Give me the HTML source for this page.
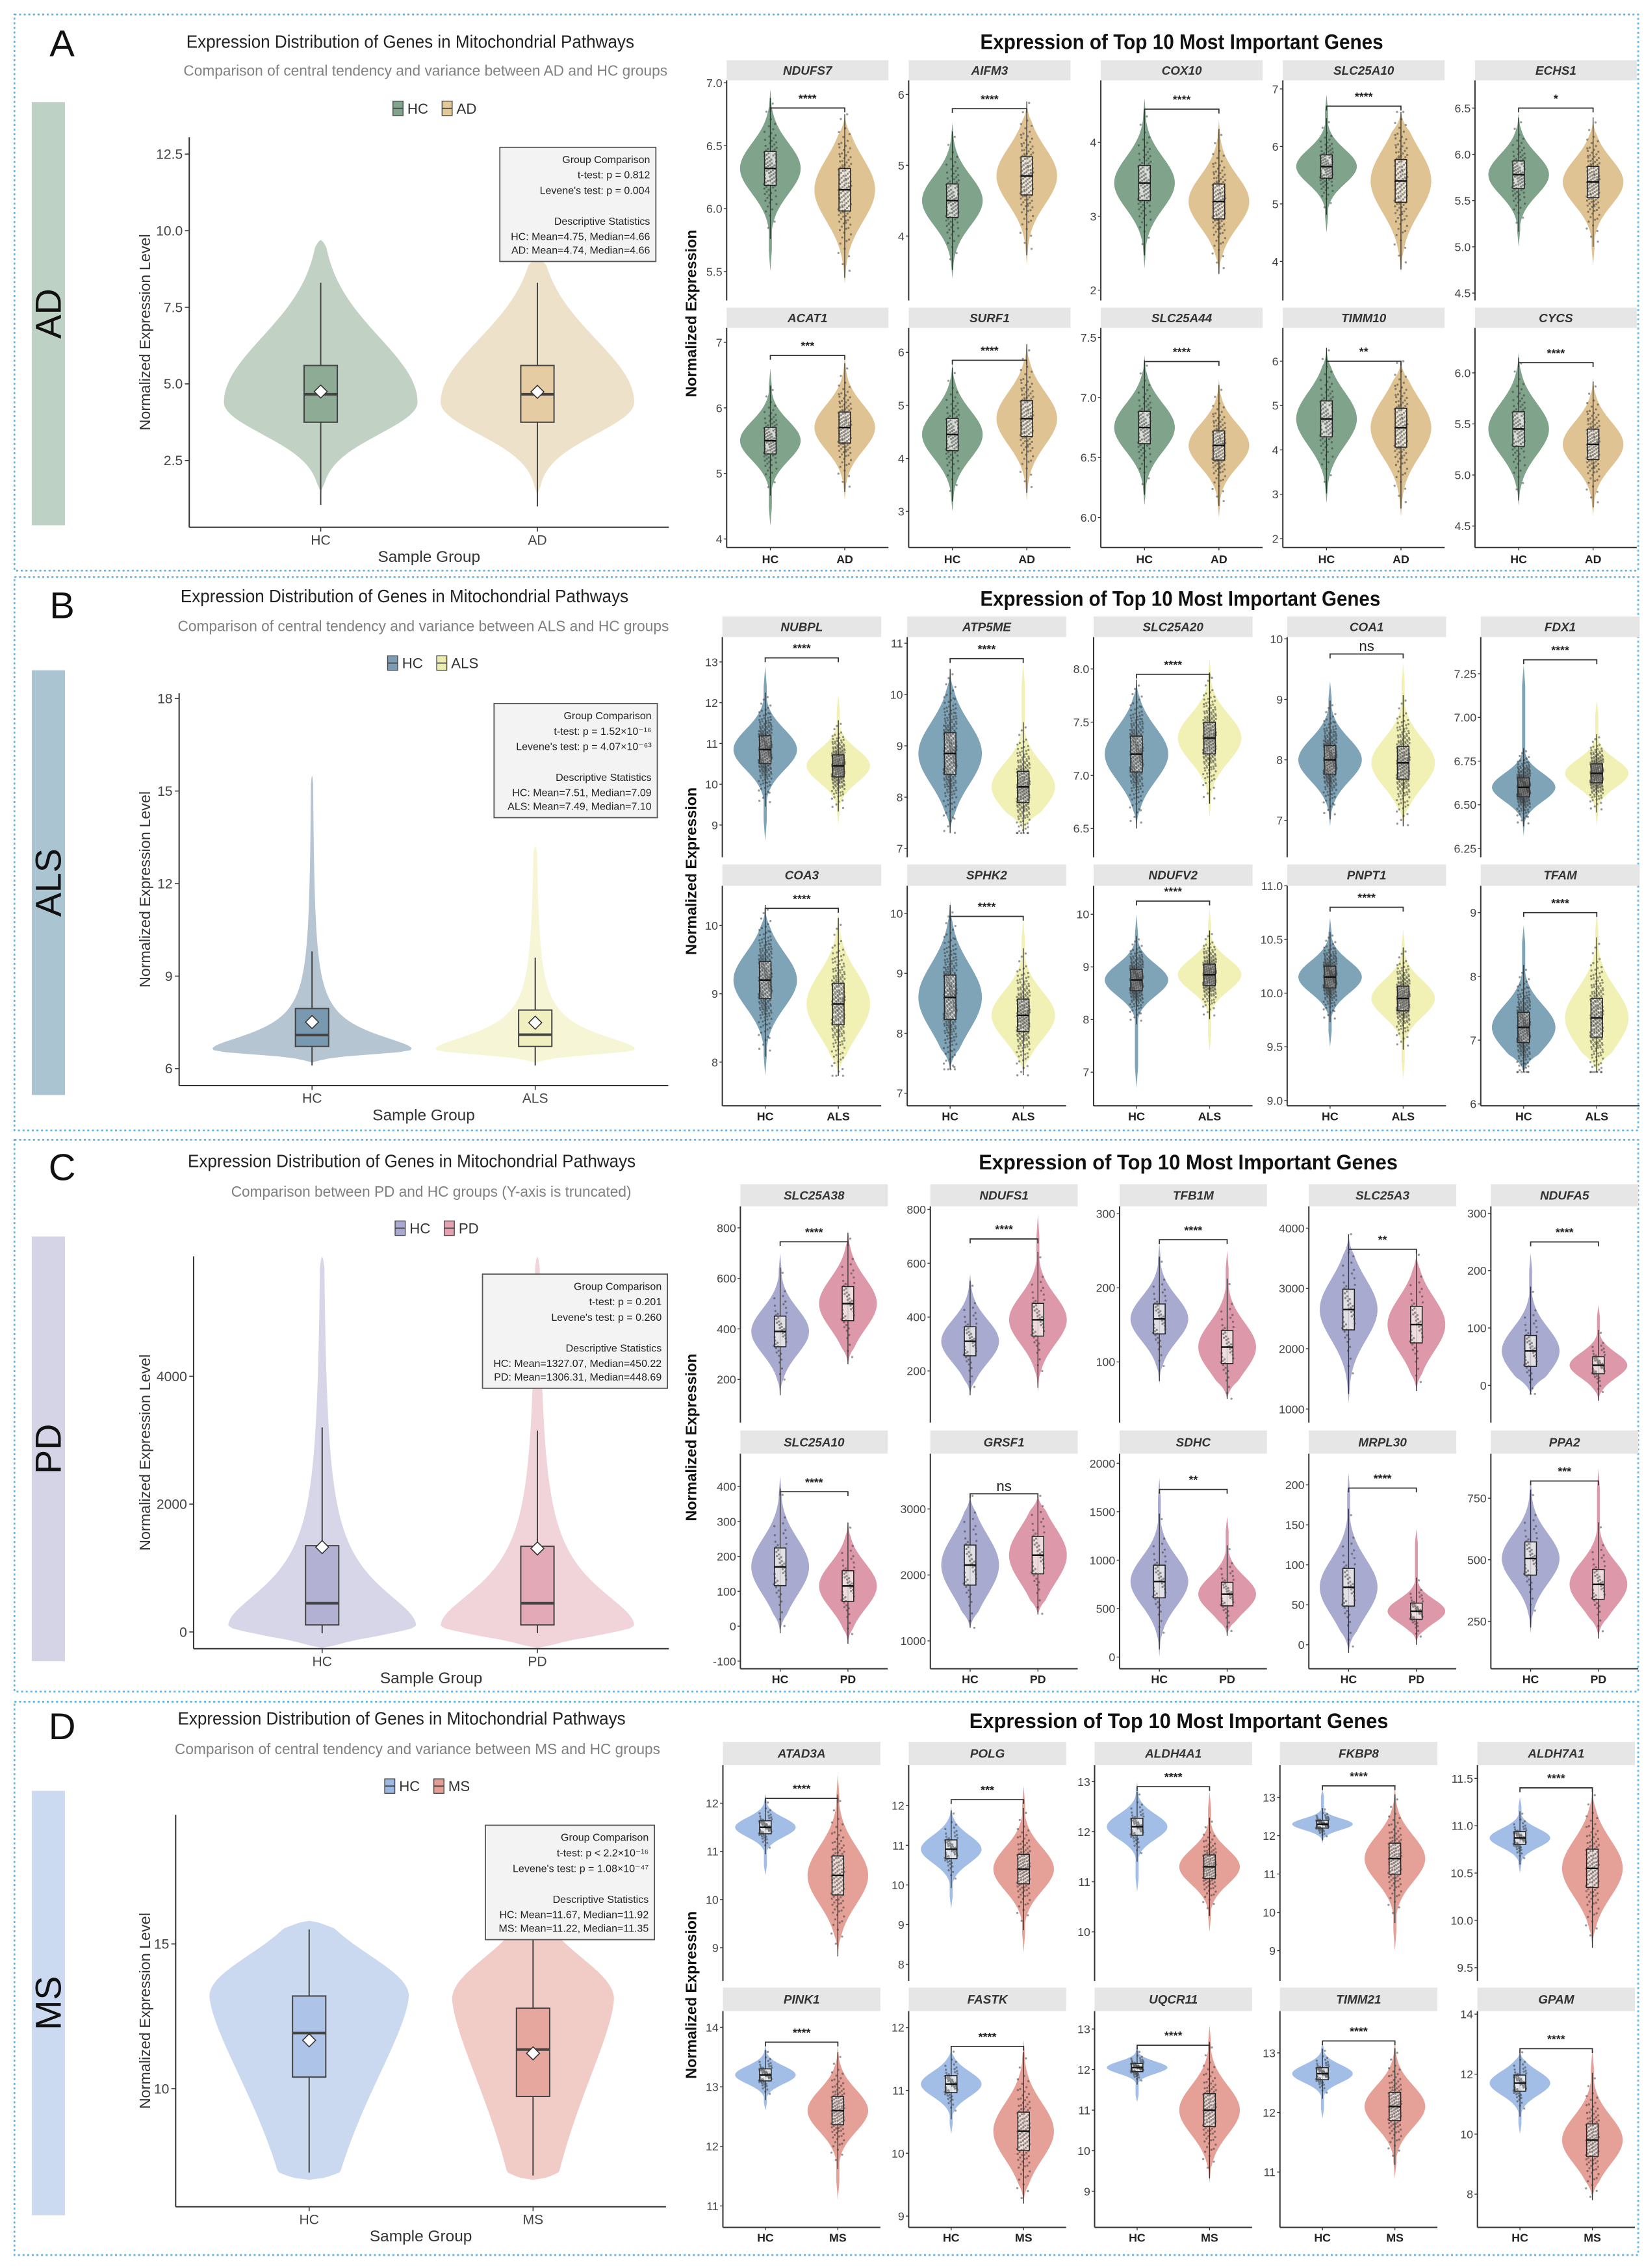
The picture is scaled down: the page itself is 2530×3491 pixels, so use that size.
<!DOCTYPE html>
<html><head><meta charset="utf-8"><title>Mitochondrial gene expression</title>
<style>
html,body{margin:0;padding:0;background:#fff;}
svg{display:block;font-family:"Liberation Sans",Arial,sans-serif;}
</style></head>
<body>
<svg id="chart" xmlns="http://www.w3.org/2000/svg" viewBox="0 0 1138 1570" width="2530" height="3491" preserveAspectRatio="none"></svg>
<script>
// ===================== DATA =====================
// Panel A (AD)
const genesA = ["NDUFS7","AIFM3","COX10","SLC25A10","ECHS1","ACAT1","SURF1","SLC25A44","TIMM10","CYCS"];
const hcA  = [[6.32,0.2,5.5,6.95],[4.5,0.35,3.4,5.6],[3.45,0.35,2.3,4.6],[5.65,0.3,4.5,6.9],[5.78,0.22,5.0,6.45],[5.5,0.3,4.2,6.6],[4.45,0.45,3.0,5.8],[6.75,0.2,6.1,7.35],[4.7,0.6,2.8,6.3],[5.45,0.25,4.7,6.2]];
const disA = [[6.15,0.25,5.4,6.75],[4.85,0.4,3.6,5.9],[3.2,0.35,2.2,4.3],[5.4,0.55,3.8,6.6],[5.7,0.25,4.8,6.4],[5.7,0.35,4.6,6.8],[4.75,0.5,3.2,6.2],[6.6,0.18,6.0,7.15],[4.5,0.65,2.5,6.0],[5.3,0.22,4.6,5.95]];
const sigA = ["****","****","****","****","*","***","****","****","**","****"];
const bracketA = [6.8,5.8,4.45,6.7,6.5,6.8,5.85,7.3,6.0,6.1];
const domainA = [[5.27,7.02],[3.09,6.2],[1.86,4.84],[3.32,7.15],[4.42,6.8],[3.87,7.22],[2.32,6.46],[5.75,7.58],[1.8,6.75],[4.29,6.44]];
const ticksA = [["5.5","6.0","6.5","7.0"],["4","5","6"],["2","3","4"],["4","5","6","7"],["4.5","5.0","5.5","6.0","6.5"],["4","5","6","7"],["3","4","5","6"],["6.0","6.5","7.0","7.5"],["2","3","4","5","6"],["4.5","5.0","5.5","6.0"]];
// Panel B (ALS)
const genesB = ["NUBPL","ATP5ME","SLC25A20","COA1","FDX1","COA3","SPHK2","NDUFV2","PNPT1","TFAM"];
const hcB  = [[10.85,0.5,8.6,12.9],[8.85,0.6,7.3,10.5],[7.2,0.25,6.5,7.9],[8.0,0.35,6.9,9.3],[6.6,0.08,6.32,7.3],[9.2,0.4,7.8,10.3],[8.6,0.55,7.4,10.2],[8.75,0.3,6.7,10.0],[10.15,0.15,9.5,10.7],[7.2,0.35,6.5,8.8]];
const disB = [[10.45,0.4,9.0,12.2],[8.2,0.45,7.3,10.6],[7.35,0.22,6.6,8.1],[7.95,0.4,6.9,9.6],[6.68,0.08,6.38,7.1],[8.85,0.45,7.8,10.2],[8.3,0.4,7.3,9.9],[8.85,0.3,7.4,10.1],[9.95,0.17,9.2,10.6],[7.35,0.45,6.5,9.0]];
const sigB = ["****","****","****","ns","****","****","****","****","****","****"];
const bracketB = [13.1,10.7,7.95,9.75,7.33,10.25,9.95,10.25,10.8,9.0];
const domainB = [[8.21,13.61],[6.83,11.12],[6.23,8.3],[6.39,10.03],[6.2,7.46],[7.36,10.58],[6.79,10.46],[6.36,10.54],[8.95,11.0],[5.97,9.42]];
const ticksB = [["9","10","11","12","13"],["7","8","9","10","11"],["6.5","7.0","7.5","8.0"],["7","8","9","10"],["6.25","6.50","6.75","7.00","7.25"],["8","9","10"],["7","8","9","10"],["7","8","9","10"],["9.0","9.5","10.0","10.5","11.0"],["6","7","8","9"]];
// Panel C (PD)
const genesC = ["SLC25A38","NDUFS1","TFB1M","SLC25A3","NDUFA5","SLC25A10","GRSF1","SDHC","MRPL30","PPA2"];
const hcC  = [[390,90,130,700],[310,80,110,560],[158,30,70,260],[2650,500,1100,3900],[60,40,-15,230],[170,80,-20,430],[2150,450,1200,3200],[780,250,0,1850],[72,35,-10,215],[505,100,200,830]];
const disC = [[500,100,260,790],[390,90,120,780],[120,33,50,250],[2400,450,1300,3600],[35,22,-30,140],[115,65,-50,300],[2300,420,1400,3200],[650,180,220,1450],[42,15,0,145],[400,90,180,870]];
const sigC = ["****","****","****","**","****","****","ns","**","****","***"];
const bracketC = [745,690,265,3650,250,385,3230,1730,196,820];
const domainC = [[29,885],[8,811],[18,310],[775,4361],[-65,312],[-122,494],[578,3838],[-121,2099],[-30,239],[57,931]];
const ticksC = [["200","400","600","800"],["200","400","600","800"],["100","200","300"],["1000","2000","3000","4000"],["0","100","200","300"],["-100","0","100","200","300","400"],["1000","2000","3000"],["0","500","1000","1500","2000"],["0","50","100","150","200"],["250","500","750"]];
// Panel D (MS)
const genesD = ["ATAD3A","POLG","ALDH4A1","FKBP8","ALDH7A1","PINK1","FASTK","UQCR11","TIMM21","GPAM"];
const hcD  = [[11.5,0.2,10.5,12.2],[10.9,0.35,9.4,12.0],[12.1,0.25,10.8,13.0],[12.3,0.15,11.8,13.2],[10.87,0.1,10.5,11.3],[13.2,0.15,12.6,13.7],[11.1,0.2,10.3,11.7],[12.05,0.15,11.2,12.6],[12.65,0.15,11.9,13.2],[11.7,0.4,10.0,12.8]];
const disD = [[10.5,0.6,8.8,12.6],[10.4,0.55,8.3,12.5],[11.3,0.35,10.0,12.8],[11.4,0.6,9.0,13.3],[10.55,0.3,9.7,11.4],[12.6,0.35,11.1,13.7],[10.35,0.45,9.2,11.8],[11.0,0.6,9.2,13.1],[12.1,0.35,10.9,13.2],[9.8,0.8,7.8,12.8]];
const sigD = ["****","***","****","****","****","****","****","****","****","****"];
const bracketD = [12.1,12.15,12.9,13.3,11.4,13.75,11.7,12.6,13.2,12.85];
const domainD = [[8.31,12.79],[7.58,13.02],[9.02,13.33],[8.21,13.84],[9.36,11.64],[10.64,14.27],[8.82,12.26],[8.11,13.44],[10.07,13.7],[6.89,14.1]];
const ticksD = [["9","10","11","12"],["8","9","10","11","12"],["10","11","12","13"],["9","10","11","12","13"],["9.5","10.0","10.5","11.0","11.5"],["11","12","13","14"],["9","10","11","12"],["9","10","11","12","13"],["11","12","13"],["8","10","12","14"]];

// Left overview violins: [peak, lo, hi, sLo, sHi, pLo, pHi, kind('g' gauss / 'c' heavy tail)]
const leftShapeA = [[4.4,1.5,9.7,1.47,3.0,2,2,"g"],[4.4,1.4,9.1,1.47,2.9,2,2,"g"]];
const leftShapeB = [[6.65,6.2,15.5,0.22,0.66,3,1.75,"c"],[6.65,6.2,13.2,0.22,0.66,3,1.75,"c"]];
const leftShapeC = [[100,-250,5876,200,794,2,1.9,"c"],[100,-250,5876,200,794,2,1.9,"c"]];
const leftShapeD = [[13.2,6.85,15.8,5.5,2.0,1.5,2,"g"],[13.1,6.85,15.8,5.5,2.0,1.5,2,"g"]];
// boxes: [whiskerLo, q1, median, q3, whiskerHi, mean]
const leftBoxA = [[1.05,3.75,4.66,5.6,8.3,4.75],[1.0,3.75,4.66,5.6,8.3,4.74]];
const leftBoxB = [[6.1,6.72,7.09,7.95,9.8,7.51],[6.1,6.72,7.10,7.9,9.6,7.49]];
const leftBoxC = [[-20,110,450,1350,3200,1327],[-20,110,449,1340,3150,1306]];
const leftBoxD = [[7.1,10.4,11.92,13.2,15.5,11.67],[7.0,9.73,11.35,12.78,15.5,11.22]];
const leftDomainA = [0.32,13.05], leftDomainB = [5.45,18.17], leftDomainC = [-262,5876], leftDomainD = [5.92,19.46];
const leftTicksA = ["2.5","5.0","7.5","10.0","12.5"], leftTicksB = ["6","9","12","15","18"], leftTicksC = ["0","2000","4000"], leftTicksD = ["10","15"];

// ===================== LAYOUT (positions, not data) =====================
const panels = [
 {id:"a",letter:"A",dis:"AD",box:[10,10,1134,395],bar:[22,70.7,45,363.6],letterY:39,
  colors:{hc:"#7fa38b",dis:"#dfc393",lhc:"#c1d1c4",ldis:"#eee1c9",bhc:"#8eab96",bdis:"#e6cca2",bar:"#bdd1c5",key:"#7fa38b",keyd:"#e3c995"},
  L:{axL:131,axR:463,top:95,bot:365,hcX:222,dX:372,hw:[67,67],title:[129,33,310],sub:[127,52.5,335],legY:75,stat:[346,102,454,181],
     subtitle:"Comparison of central tendency and variance between AD and HC groups",
     stats:["Group Comparison","t-test: p = 0.812","Levene's test: p = 0.004","","Descriptive Statistics","HC: Mean=4.75, Median=4.66","AD: Mean=4.74, Median=4.66"]},
  shape:leftShapeA,lbox:leftBoxA,ldom:leftDomainA,lticks:leftTicksA,
  R:{cols:[503,629,762,888,1021],w:112,rows:[[41.7,55.6,208],[213,227,379]],xlab:390,title:[818,34,279],ylabY:217,hw:21,n:[90,120]},
  genes:genesA,hc:hcA,dd:disA,sig:sigA,br:bracketA,dom:domainA,ticks:ticksA},
 {id:"b",letter:"B",dis:"ALS",box:[10,399.5,1134,782.5],bar:[22,464,45,758],letterY:428,
  colors:{hc:"#7fa4b8",dis:"#f1f1b6",lhc:"#b5c5d2",ldis:"#f6f6d7",bhc:"#7899b0",bdis:"#efefc0",bar:"#abc4d1",key:"#7b9cb4",keyd:"#ecec b0".replace(" ","")},
  L:{axL:124,axR:462.6,top:479.9,bot:751.5,hcX:216,dX:370.5,hw:[69,69],title:[125,417,310],sub:[123,437,340],legY:459,stat:[342,487,455,566],
     subtitle:"Comparison of central tendency and variance between ALS and HC groups",
     stats:["Group Comparison","t-test: p = 1.52×10⁻¹⁶","Levene's test: p = 4.07×10⁻⁶³","","Descriptive Statistics","HC: Mean=7.51, Median=7.09","ALS: Mean=7.49, Median=7.10"]},
  shape:leftShapeB,lbox:leftBoxB,ldom:leftDomainB,lticks:leftTicksB,
  R:{cols:[500,628,757,891,1025],w:110,rows:[[426.8,441,593.4],[598.4,613.2,765.5]],xlab:775.5,title:[817,419.4,277],ylabY:603,hw:22,n:[260,220]},
  genes:genesB,hc:hcB,dd:disB,sig:sigB,br:bracketB,dom:domainB,ticks:ticksB},
 {id:"c",letter:"C",dis:"PD",box:[10,789,1134,1171],bar:[22,856,45,1150],letterY:817,
  colors:{hc:"#a9aad0",dis:"#dd98aa",lhc:"#d7d6e8",ldis:"#f1d3da",bhc:"#b2b1d3",bdis:"#e4a9b6",bar:"#d4d4e6",key:"#aaa9cf",keyd:"#e3a1b1"},
  L:{axL:134,axR:463,top:869.7,bot:1141.3,hcX:223,dX:372,hw:[65,67],title:[130,808,310],sub:[160,828.5,277],legY:850.2,stat:[334,882,462,961],
     subtitle:"Comparison between PD and HC groups (Y-axis is truncated)",
     stats:["Group Comparison","t-test: p = 0.201","Levene's test: p = 0.260","","Descriptive Statistics","HC: Mean=1327.07, Median=450.22","PD: Mean=1306.31, Median=448.69"]},
  shape:leftShapeC,lbox:leftBoxC,ldom:leftDomainC,lticks:leftTicksC,
  R:{cols:[512.5,644,775,906,1032],w:102,rows:[[819.8,835.1,984.8],[990.2,1006.3,1155.2]],xlab:1165.3,title:[822.5,809.5,290],ylabY:995,hw:20,n:[45,45]},
  genes:genesC,hc:hcC,dd:disC,sig:sigC,br:bracketC,dom:domainC,ticks:ticksC},
 {id:"d",letter:"D",dis:"MS",box:[10,1178,1134,1561],bar:[22,1239.7,45,1533.5],letterY:1204,
  colors:{hc:"#a3bee6",dis:"#e5a097",lhc:"#cbd9f0",ldis:"#f1cbc5",bhc:"#adc4e8",bdis:"#e6a79e",bar:"#cbdaf0",key:"#9db8e2",keyd:"#e39d93"},
  L:{axL:121.6,axR:461,top:1256.3,bot:1527.6,hcX:214,dX:369,hw:[69,56],title:[123,1193.8,310],sub:[121,1214.2,336],legY:1236.4,stat:[336,1263.5,453,1342.7],
     subtitle:"Comparison of central tendency and variance between MS and HC groups",
     stats:["Group Comparison","t-test: p < 2.2×10⁻¹⁶","Levene's test: p = 1.08×10⁻⁴⁷","","Descriptive Statistics","HC: Mean=11.67, Median=11.92","MS: Mean=11.22, Median=11.35"]},
  shape:leftShapeD,lbox:leftBoxD,ldom:leftDomainD,lticks:leftTicksD,
  R:{cols:[500.4,629,757.7,886,1022.7],w:109,rows:[[1205.8,1221.9,1371.3],[1375.9,1392.2,1541.9]],xlab:1551.8,title:[816,1196.3,290],ylabY:1381,hw:21,n:[55,110]},
  genes:genesD,hc:hcD,dd:disD,sig:sigD,br:bracketD,dom:domainD,ticks:ticksD}
];

// ===================== HELPERS =====================
const NS = "http://www.w3.org/2000/svg";
const svg = document.getElementById("chart");
function mk(tag, attrs, parent){
  const e = document.createElementNS(NS, tag);
  for (const k in attrs) e.setAttribute(k, attrs[k]);
  (parent || svg).appendChild(e);
  return e;
}
function txt(parent, x, y, s, attrs){
  const e = mk("text", Object.assign({x:x, y:y}, attrs || {}), parent);
  e.textContent = s;
  return e;
}
function linY(dom, y0, y1){ return v => y0 + (v - dom[0]) / (dom[1] - dom[0]) * (y1 - y0); }
function normInv(p){
  const q = p < 0.5 ? p : 1 - p;
  const t = Math.sqrt(-2 * Math.log(q));
  const z = t - (2.515517 + 0.802853*t + 0.010328*t*t) / (1 + 1.432788*t + 0.189269*t*t + 0.001308*t*t*t);
  return p < 0.5 ? -z : z;
}
function frac(x){ return x - Math.floor(x); }

// ===================== LEFT OVERVIEW =====================
function leftViolinPath(sh, cx, hw, y){
  const [pk, lo, hi, sLo, sHi, pLo, pHi, kind] = sh;
  const N = 140, left = [], right = [];
  for (let i = 0; i <= N; i++){
    const v = lo + (hi - lo) * i / N;
    const d = v - pk;
    const s = d < 0 ? sLo : sHi, p = d < 0 ? pLo : pHi;
    const r = Math.pow(Math.abs(d) / s, p);
    let w = kind === "c" ? 1 / (1 + r) : Math.exp(-r);
    const tp = Math.min(1, (v - lo) / ((hi - lo) * 0.03 + 1e-9), (hi - v) / ((hi - lo) * 0.03 + 1e-9));
    w *= Math.sqrt(Math.max(0, tp));
    left.push([cx - hw * w, y(v)]);
    right.push([cx + hw * w, y(v)]);
  }
  const pts = left.concat(right.reverse());
  return "M" + pts.map(p => p[0].toFixed(2) + "," + p[1].toFixed(2)).join("L") + "Z";
}
function drawLeft(P){
  const L = P.L, C = P.colors;
  const g = mk("g", {});
  
  
  const t = txt(g, L.title[0], L.title[1], "Expression Distribution of Genes in Mitochondrial Pathways", {"font-size":12.5, fill:"#222", textLength:L.title[2], lengthAdjust:"spacingAndGlyphs"});
  
  
  const st = txt(g, L.sub[0], L.sub[1], L.subtitle, {"font-size":10.2, fill:"#808080", textLength:L.sub[2], lengthAdjust:"spacingAndGlyphs"});
  
  
  // legend
  const lg = mk("g", {}, g);
  
  
  const lx = (L.axL + L.axR) / 2 - 25;
  [[P.colors.key, "HC", 0], [P.colors.keyd, P.dis, 34]].forEach(k => {
    const kb = mk("rect", {x:lx + k[2], y:L.legY - 5, width:7, height:10, fill:k[0], stroke:"#444", "stroke-width":0.6}, lg);
    
    
    mk("line", {x1:lx + k[2], x2:lx + k[2] + 7, y1:L.legY, y2:L.legY, stroke:"#444", "stroke-width":0.8}, lg);
    const lt = txt(lg, lx + k[2] + 10, L.legY + 3.6, k[1], {"font-size":10, fill:"#333"});
    
    
  });
  const y = linY(P.ldom, L.bot, L.top);
  // violins
  [[0, L.hcX, C.lhc, C.bhc, "hc"], [1, L.dX, C.ldis, C.bdis, P.dis.toLowerCase()]].forEach(o => {
    const vp = mk("path", {d:leftViolinPath(P.shape[o[0]], o[1], L.hw[o[0]], y), fill:o[2]}, g);
    
    
    const b = P.lbox[o[0]];
    const wl = mk("line", {x1:o[1], x2:o[1], y1:y(b[0]), y2:y(b[4]), stroke:"#444", "stroke-width":0.9}, g);
    
    
    const br = mk("rect", {x:o[1] - 11.5, y:y(b[3]), width:23, height:y(b[1]) - y(b[3]), fill:o[3], stroke:"#444", "stroke-width":0.9}, g);
    
    
    const md = mk("line", {x1:o[1] - 11.5, x2:o[1] + 11.5, y1:y(b[2]), y2:y(b[2]), stroke:"#444", "stroke-width":1.8}, g);
    
    
    const my = y(b[5]);
    const dm = mk("path", {d:`M${o[1]},${my-4.5}L${o[1]+4.5},${my}L${o[1]},${my+4.5}L${o[1]-4.5},${my}Z`, fill:"#fff", stroke:"#333", "stroke-width":0.7}, g);
    
    
  });
  // axes
  const ya = mk("line", {x1:L.axL, x2:L.axL, y1:L.top, y2:L.bot, stroke:"#333", "stroke-width":0.9}, g);
  
  
  const xa = mk("line", {x1:L.axL, x2:L.axR, y1:L.bot, y2:L.bot, stroke:"#333", "stroke-width":0.9}, g);
  
  
  P.lticks.forEach(s => {
    const v = parseFloat(s), yy = y(v);
    mk("line", {x1:L.axL - 3, x2:L.axL, y1:yy, y2:yy, stroke:"#333", "stroke-width":0.7}, g);
    const tl = txt(g, L.axL - 4.5, yy + 3.3, s, {"font-size":9.5, fill:"#444", "text-anchor":"end"});
    
    
  });
  [[L.hcX, "HC"], [L.dX, P.dis]].forEach(o => {
    mk("line", {x1:o[0], x2:o[0], y1:L.bot, y2:L.bot + 3, stroke:"#333", "stroke-width":0.7}, g);
    const xl = txt(g, o[0], L.bot + 12, o[1], {"font-size":9.5, fill:"#444", "text-anchor":"middle"});
    
    
  });
  const xt = txt(g, (L.axL + L.axR) / 2, L.bot + 24, "Sample Group", {"font-size":11, fill:"#333", "text-anchor":"middle"});
  
  
  const cy = (L.top + L.bot) / 2;
  const yt = txt(g, 104, cy, "Normalized Expression Level", {"font-size":10.5, fill:"#333", "text-anchor":"middle", transform:`rotate(-90 104 ${cy})`});
  
  
  // stats box
  const s = L.stat;
  const sb = mk("g", {}, g);
  
  
  mk("rect", {x:s[0], y:s[1], width:s[2] - s[0], height:s[3] - s[1], fill:"#f3f3f3", stroke:"#555", "stroke-width":0.8}, sb);
  const h = s[3] - s[1];
  const offs = [0.105, 0.24, 0.375, 0.5, 0.645, 0.78, 0.9];
  L.stats.forEach((line, i) => {
    if (!line) return;
    const tl = txt(sb, s[2] - 4, s[1] + h * offs[i] + 2.6, line, {"font-size":7.2, fill:"#222", "text-anchor":"end"});
    
    
  });
}

// ===================== RIGHT SMALL MULTIPLES =====================
function violinPath(st, cx, hw, y){
  const [c, sd, lo, hi] = st;
  const N = 60, L = [], R = [];
  for (let i = 0; i <= N; i++){
    const v = lo + (hi - lo) * i / N;
    let w = Math.exp(-0.5 * Math.pow((v - c) / sd, 2));
    w = Math.max(w, 0.05);
    const tp = Math.min(1, (v - lo) / ((hi - lo) * 0.12), (hi - v) / ((hi - lo) * 0.12));
    w *= Math.max(0, tp);
    L.push([cx - hw * w, y(v)]);
    R.push([cx + hw * w, y(v)]);
  }
  const pts = L.concat(R.reverse());
  return "M" + pts.map(p => p[0].toFixed(2) + "," + p[1].toFixed(2)).join("L") + "Z";
}
function drawGroup(g, st, cx, hw, y, fill, n, key){
  const v = mk("path", {d:violinPath(st, cx, hw, y), fill:fill}, g);
  
  
  const [c, sd, lo, hi] = st;
  const wl = mk("line", {x1:cx, x2:cx, y1:y(Math.max(lo, c - 2.8 * sd)), y2:y(Math.min(hi, c + 2.8 * sd)), stroke:"#333", "stroke-width":0.6}, g);
  
  
  const q1 = c - 0.674 * sd, q3 = c + 0.674 * sd;
  const bx = mk("rect", {x:cx - 4, y:y(q3), width:8, height:y(q1) - y(q3), fill:"#f4f1ee", "fill-opacity":0.75, stroke:"#222", "stroke-width":0.7}, g);
  
  
  const pg = mk("g", {fill:"#333", "fill-opacity":0.5}, g);
  
  
  for (let i = 0; i < n; i++){
    const p = frac((i + 0.5) * 0.6180339887);
    let val = c + sd * normInv(Math.min(0.995, Math.max(0.005, p)));
    val = Math.max(lo, Math.min(hi, val));
    const jx = (frac(i * 0.7548776662 + 0.3) - 0.5) * 9;
    mk("circle", {cx:(cx + jx).toFixed(2), cy:y(val).toFixed(2), r:0.75}, pg);
  }
  const md = mk("line", {x1:cx - 4, x2:cx + 4, y1:y(c), y2:y(c), stroke:"#111", "stroke-width":1.1}, g);
  
  
}
function drawRight(P){
  const R = P.R, C = P.colors;
  const g = mk("g", {});
  
  
  const t = txt(g, R.title[0], R.title[1], "Expression of Top 10 Most Important Genes", {"font-size":14.5, "font-weight":"bold", fill:"#111", "text-anchor":"middle", textLength:R.title[2], lengthAdjust:"spacingAndGlyphs"});
  
  
  const yl = txt(g, 482, R.ylabY, "Normalized Expression", {"font-size":10.5, "font-weight":"bold", fill:"#111", "text-anchor":"middle", transform:`rotate(-90 482 ${R.ylabY})`});
  
  
  P.genes.forEach((gene, i) => {
    const row = Math.floor(i / 5), col = i % 5;
    const x0 = R.cols[col], w = R.w, rr = R.rows[row];
    const sg = mk("g", {}, g);
    
    
    const strip = mk("rect", {x:x0, y:rr[0], width:w, height:rr[1] - rr[0], fill:"#e6e6e6"}, sg);
    
    
    const gt = txt(sg, x0 + w / 2, (rr[0] + rr[1]) / 2 + 3, gene, {"font-size":8.5, "font-style":"italic", "font-weight":"bold", fill:"#333", "text-anchor":"middle"});
    
    
    const y = linY(P.dom[i], rr[2], rr[1]);
    const hx = x0 + 0.27 * w, dx = x0 + 0.73 * w;
    drawGroup(sg, P.hc[i], hx, R.hw, y, C.hc, R.n[0], "hc");
    drawGroup(sg, P.dd[i], dx, R.hw, y, C.dis, R.n[1], P.dis.toLowerCase());
    // axis
    const ax = mk("line", {x1:x0, x2:x0, y1:rr[1], y2:rr[2], stroke:"#333", "stroke-width":0.9}, sg);
    
    
    P.ticks[i].forEach(s => {
      const yy = y(parseFloat(s));
      mk("line", {x1:x0 - 2, x2:x0, y1:yy, y2:yy, stroke:"#333", "stroke-width":0.6}, sg);
      const tl = txt(sg, x0 - 3, yy + 2.9, s, {"font-size":8, fill:"#444", "text-anchor":"end"});
      
      
    });
    if (row === 1){
      const bx = mk("line", {x1:x0, x2:x0 + w, y1:rr[2], y2:rr[2], stroke:"#333", "stroke-width":0.9}, sg);
      
      
      [[hx, "HC"], [dx, P.dis]].forEach(o => {
        mk("line", {x1:o[0], x2:o[0], y1:rr[2], y2:rr[2] + 2, stroke:"#333", "stroke-width":0.6}, sg);
        const xl = txt(sg, o[0], R.xlab, o[1], {"font-size":8, "font-weight":"bold", fill:"#222", "text-anchor":"middle"});
        
        
      });
    }
    // significance bracket
    const by = y(P.br[i]);
    const bk = mk("path", {d:`M${hx},${by + 3}L${hx},${by}L${dx},${by}L${dx},${by + 3}`, fill:"none", stroke:"#333", "stroke-width":0.8}, sg);
    
    
    const isNs = P.sig[i] === "ns";
    const sl = txt(sg, (hx + dx) / 2, isNs ? by - 2 : by - 4, P.sig[i], {"font-size":isNs ? 10 : 8, "font-weight":isNs ? "normal" : "bold", fill:"#222", "text-anchor":"middle"});
    
    
  });
}

// ===================== PANEL FRAMES =====================
panels.forEach(P => {
  const fr = mk("rect", {x:P.box[0], y:P.box[1], width:P.box[2] - P.box[0], height:P.box[3] - P.box[1], fill:"none", stroke:"#62b3e2", "stroke-width":1.2, "stroke-dasharray":"1.4,1.8"});
  
  
  const lt = txt(svg, 43, P.letterY, P.letter, {"font-size":26, fill:"#111", "text-anchor":"middle"});
  
  
  const b = P.bar;
  const bar = mk("rect", {x:b[0], y:b[1], width:b[2] - b[0], height:b[3] - b[1], fill:P.colors.bar});
  
  
  const cx = (b[0] + b[2]) / 2 + 8.5, cy = (b[1] + b[3]) / 2;
  const bt = txt(svg, cx, cy, P.dis, {"font-size":25, fill:"#111", "text-anchor":"middle", transform:`rotate(-90 ${cx} ${cy})`});
  
  
  drawLeft(P);
  drawRight(P);
});
</script>
</body></html>
